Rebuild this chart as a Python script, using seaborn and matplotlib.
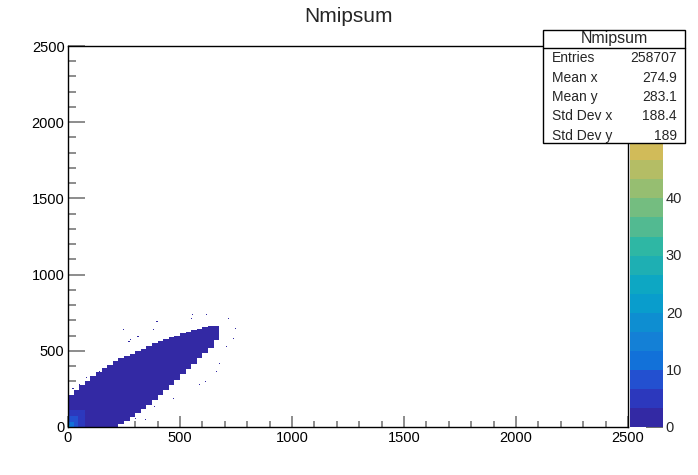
import numpy as np
import pandas as pd
import seaborn as sns
import matplotlib.pyplot as plt
from matplotlib.colors import LinearSegmentedColormap, ListedColormap
from matplotlib.patches import Rectangle
from matplotlib.lines import Line2D
from matplotlib.ticker import MultipleLocator

# --- data ----------------------------------------------------------------
# band of filled bins, one entry per 25-wide column (x = left edge of column)
col_x = [0, 25, 50, 75, 100, 125, 150, 175, 200, 225, 250, 275, 300, 325,
         350, 375, 400, 425, 450, 475, 500, 525, 550, 575, 600, 625, 650]
band_lo = [0, 0, 0, 0, 0, 0, 0, 0, 0, 20, 43, 68, 93, 120,
           148, 178, 210, 243, 278, 313, 348, 383, 418, 453, 488, 523, 573]
band_hi = [212, 244, 277, 307, 337, 364, 390, 412, 432, 450, 467, 482, 500, 517,
           534, 550, 565, 579, 592, 604, 615, 626, 637, 648, 658, 667, 662]
band_val = [2, 2, 2, 2, 2, 2, 2, 2, 2, 2, 2, 2, 2, 2,
            2, 2, 2, 2, 2, 2, 2, 2, 2, 2, 2, 2, 2]

# brighter spot near the origin
hot_x0 = [0, 0, 0, 0]
hot_x1 = [75, 45, 25, 10]
hot_y0 = [0, 0, 0, 0]
hot_y1 = [110, 70, 35, 10]
hot_val = [4, 8, 13, 22]

# isolated bins outside the band
stray_x = [723, 716, 559, 619, 478, 552, 396, 708, 701, 679, 664, 612, 589, 530,
           470, 738, 746, 381, 426, 281, 311, 274, 140, 80, 51, 21, 348, 304,
           385, 259, 229, 455, 396, 277, 247]
stray_y = [702, 713, 739, 735, 702, 713, 702, 527, 472, 418, 363, 297, 276, 199,
           188, 582, 648, 636, 571, 615, 593, 560, 363, 320, 276, 254, 46, 57,
           133, 13, 64, 680, 691, 571, 636]

stat_names = ["Entries", "Mean x", "Mean y", "Std Dev x", "Std Dev y"]
stat_values = ["258707", "274.9", "283.1", "188.4", "189"]

BINW = 5
NB = 500
ZMAX = 66.3

# --- build the bin table --------------------------------------------------
grid = np.zeros((NB, NB))
for x, lo, hi, v in zip(col_x, band_lo, band_hi, band_val):
    grid[x // BINW:(x + 25) // BINW, lo // BINW:hi // BINW] = v
for x0, x1, y0, y1, v in zip(hot_x0, hot_x1, hot_y0, hot_y1, hot_val):
    sub = grid[x0 // BINW:x1 // BINW, y0 // BINW:y1 // BINW]
    sub[sub > 0] = v
for x, y in zip(stray_x, stray_y):
    grid[x // BINW, y // BINW] = max(grid[x // BINW, y // BINW], 1)

ix, iy = np.nonzero(grid)
df = pd.DataFrame({"x": ix * BINW + BINW / 2,
                   "y": iy * BINW + BINW / 2,
                   "w": grid[ix, iy]})

# ROOT kBird palette, 20 contour levels
stops = [0.0, 0.125, 0.25, 0.375, 0.5, 0.625, 0.75, 0.875, 1.0]
red = [0.2082, 0.0592, 0.0780, 0.0232, 0.1802, 0.5301, 0.8186, 0.9956, 0.9764]
green = [0.1664, 0.3599, 0.5041, 0.6419, 0.7178, 0.7492, 0.7328, 0.7862, 0.9832]
blue = [0.5293, 0.8684, 0.8385, 0.7914, 0.6425, 0.4662, 0.3499, 0.1968, 0.0539]
bird = LinearSegmentedColormap.from_list(
    "bird", list(zip(stops, zip(red, green, blue))), N=255)
ndiv = 20
levels = [bird(int((i + 0.99) * 255 / ndiv) / 254) for i in range(ndiv)]
levels[0] = "#3329a4"
levels[1] = "#2c38bd"
levels[2] = "#2350d0"
cmap = ListedColormap(levels)

# --- figure ---------------------------------------------------------------
sns.set_theme(style="ticks")
plt.rcParams["font.family"] = ["Liberation Sans", "DejaVu Sans"]

W, H = 698, 475
fig = plt.figure(figsize=(W / 100, H / 100), dpi=100)
ax = fig.add_axes([68 / W, 1 - 427 / H, 560 / W, 381 / H])
cax = fig.add_axes([630 / W, 1 - 427 / H, 33 / W, 381 / H])

sns.histplot(data=df, x="x", y="y", weights="w", binwidth=BINW,
             binrange=((0, 2500), (0, 2500)), cmap=cmap, vmin=0, vmax=ZMAX,
             ax=ax, cbar=True, cbar_ax=cax)

ax.set_xlim(0, 2500)
ax.set_ylim(0, 2500)
ax.set_xlabel("")
ax.set_ylabel("")
ax.set_xticks(range(0, 2501, 500))
ax.set_yticks(range(0, 2501, 500))
ax.xaxis.set_minor_locator(MultipleLocator(100))
ax.yaxis.set_minor_locator(MultipleLocator(100))
tc = "#6e6e6e"
ax.tick_params(axis="x", which="major", direction="in", length=8.2, width=1.1,
               color=tc, labelsize=10.5, pad=3, labelcolor="black")
ax.tick_params(axis="x", which="minor", direction="in", length=4.1, width=1.1, color=tc)
ax.tick_params(axis="y", which="major", direction="in", length=12.1, width=1.1,
               color=tc, labelsize=10.5, pad=2.5, labelcolor="black")
ax.tick_params(axis="y", which="minor", direction="in", length=6, width=1.1, color=tc)
ax.tick_params(top=False, right=False, which="both")
for s in ax.spines.values():
    s.set_visible(True)
    s.set_color("black")
    s.set_linewidth(1.0)

cax.set_ylim(0, ZMAX)
cax.set_yticks([0, 10, 20, 30, 40])
cax.yaxis.set_minor_locator(plt.NullLocator())
cax.tick_params(axis="y", direction="in", length=12, width=1.1, color="#444444",
                labelsize=10.5, pad=2, right=True, left=False)
cax.yaxis.set_ticks_position("right")
cax.collections[0].set_edgecolor("face")
for s in cax.spines.values():
    s.set_visible(False)

# title
fig.text(0.5, 1 - 17 / H, "Nmipsum", ha="center", va="center", fontsize=15)

# stats box
bx0, bx1, by0, by1 = 543, 685, 30, 143.3
fig.add_artist(Rectangle((bx0 / W, 1 - by1 / H), (bx1 - bx0) / W, (by1 - by0) / H,
                         transform=fig.transFigure, facecolor="white",
                         edgecolor="black", linewidth=1.0, zorder=5))
fig.add_artist(Line2D([bx0 / W, bx1 / W], [1 - 48.3 / H, 1 - 48.3 / H],
                      transform=fig.transFigure, color="black", linewidth=1.0, zorder=6))
fig.text((bx0 + bx1) / 2 / W, 1 - 39 / H, "Nmipsum", ha="center", va="center",
         fontsize=11.5, zorder=7)
for k, (name, val) in enumerate(zip(stat_names, stat_values)):
    yy = 1 - (58.5 + k * 19.3) / H
    fig.text(551.5 / W, yy, name, ha="left", va="center", fontsize=10, zorder=7)
    fig.text(677 / W, yy, val, ha="right", va="center", fontsize=10, zorder=7)

fig.savefig("out.png", dpi=100)
